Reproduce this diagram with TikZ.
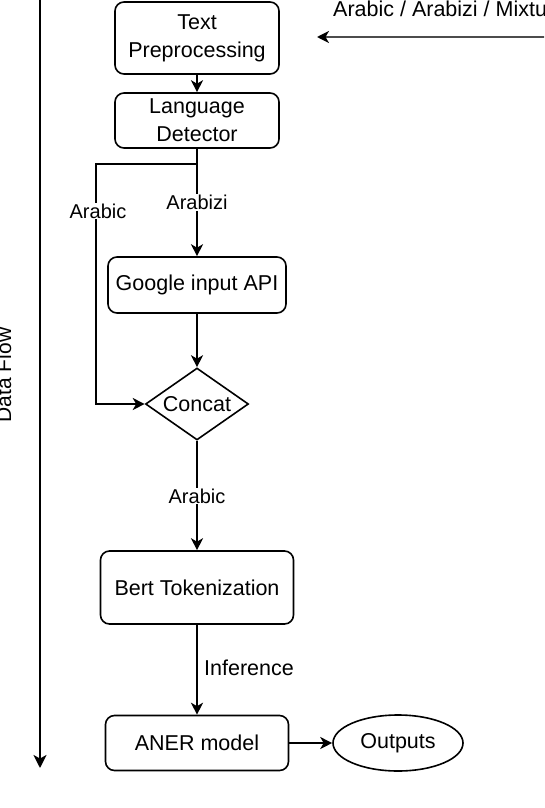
\documentclass[tikz,border=0pt]{standalone}
\usepackage{fontspec}
\setmainfont{Liberation Sans}
\newfontfamily\capfont{Liberation Serif}
\usetikzlibrary{shapes.geometric,arrows.meta}
\begin{document}
\begin{tikzpicture}[x=1pt,y=-1pt,
  box/.style={draw=black,line width=1.6pt,rounded corners=9pt,inner sep=0pt,align=center,
    font=\fontsize{21.5}{28}\selectfont},
  conn/.style={line width=1.8pt,-{Stealth[length=12pt,width=12pt,inset=3.5pt]}},
  plain/.style={line width=1.8pt},
  lbl/.style={fill=white,inner sep=1pt,font=\fontsize{20}{24}\selectfont}]
\clip (0,0) rectangle (544,808);
\fill[white] (0,0) rectangle (544,808);
% nodes
\node[box,minimum width=164pt,minimum height=72pt] (tp) at (197,38) {Text\\Preprocessing};
\node[box,minimum width=164pt,minimum height=55pt] (ld) at (197,120.5) {Language\\Detector};
\node[box,minimum width=178pt,minimum height=56pt] (gapi) at (197,285) {Google input API};
\node[draw=black,line width=1.6pt,diamond,shape aspect=1.43,inner sep=0pt,
  minimum width=103pt,minimum height=72pt,font=\fontsize{21.5}{28}\selectfont] (concat) at (197,404) {Concat};
\node[box,minimum width=193pt,minimum height=73pt] (bert) at (197,587.5) {Bert Tokenization};
\node[box,minimum width=183pt,minimum height=55pt] (aner) at (197,743) {ANER model};
\node[draw=black,line width=1.6pt,ellipse,inner sep=0pt,minimum width=130pt,minimum height=56pt,
  font=\fontsize{21.5}{28}\selectfont] (out) at (398,743) {Outputs};
% coordinates
\coordinate (inS) at (548,37);
\coordinate (inE) at (317,37);
\coordinate (br) at (197,164);
\coordinate (brL) at (96,164);
\coordinate (arL) at (96,404);
\coordinate (dfS) at (40,-5);
\coordinate (dfE) at (40,768);
% connectors
\draw[line width=1.8pt,draw=black!70,-{Stealth[black,length=12pt,width=12pt,inset=3.5pt]}] (inS) -- (inE);
\draw[conn] (tp.south) -- (ld.north);
\draw[plain] (ld.south) -- (br);
\draw[conn] (br) -- (brL) -- (arL) -- (concat.west);
\draw[conn] (br) -- (gapi.north);
\draw[conn] (gapi.south) -- (concat.north);
\draw[conn] (concat.south) -- (bert.north);
\draw[conn] (bert.south) -- (aner.north);
\draw[conn] (aner.east) -- (out.west);
\draw[line width=2.5pt,-{Stealth[length=13pt,width=13pt,inset=3.5pt]}] (dfS) -- (dfE);
% labels
\node[lbl,anchor=base] (lArabizi) at (197,209.5) {Arabizi};
\node[lbl,anchor=base] (lArabicL) at (98,218) {Arabic};
\node[lbl,anchor=base] (lArabicB) at (197,503) {Arabic};
\node[inner sep=0pt,anchor=base west,font=\fontsize{21.5}{26}\selectfont] (lInf) at (204,675) {Inference};
\node[inner sep=0pt,anchor=base west,font=\fontsize{21.5}{26}\selectfont] (lIn) at (333,17) {Arabic / Arabizi / Mixture};
\node[inner sep=0pt,anchor=base,rotate=90,font=\fontsize{21}{26}\selectfont] (df) at (11,375) {Data Flow};
\node[inner sep=0pt,anchor=base west,font=\capfont\fontsize{28}{32}\selectfont] (cap) at (155,829) {Fig. 1: System Pipeline};
\end{tikzpicture}
\end{document}
